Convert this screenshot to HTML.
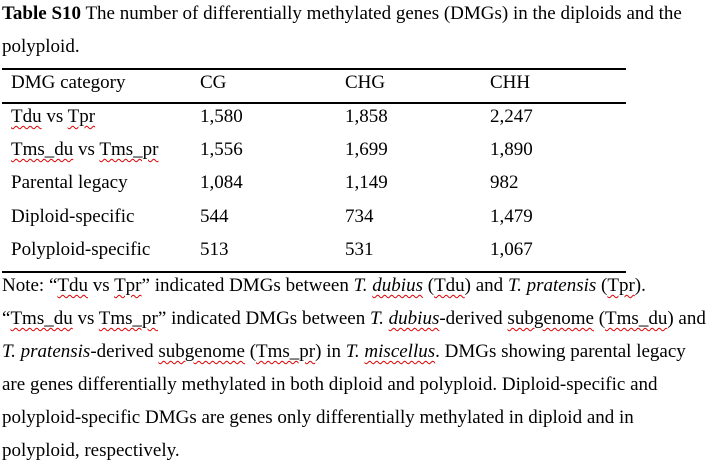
<!DOCTYPE html>
<html><head><meta charset="utf-8"><style>
body{margin:0;width:724px;height:471px;background:#fff;position:relative;overflow:hidden;font-family:"Liberation Serif",serif;font-size:19px;color:#000}
.t{position:absolute;white-space:nowrap;line-height:22px}
.w{text-decoration:underline wavy #d00;text-decoration-thickness:1px;text-underline-offset:3px}
.r{position:absolute;left:2px;width:624px;height:2px;background:#000}
</style></head><body>
<div class="t" style="left:2px;top:3px"><b>Table S10</b> The number of differentially methylated genes (DMGs) in the diploids and the</div>
<div class="t" style="left:2px;top:36px">polyploid.</div>
<div class="r" style="top:68px"></div>
<div class="r" style="top:102px"></div>
<div class="r" style="top:271px"></div>
<div id="tbl"></div>
<div class="t" style="left:2px;top:275px">Note: “<span class="w">Tdu</span> vs <span class="w">Tpr</span>” indicated DMGs between <i>T. <span class="w">dubius</span></i> (<span class="w">Tdu</span>) and <i>T. pratensis</i> (<span class="w">Tpr</span>).</div>
<div class="t" style="left:2px;top:308px">“<span class="w">Tms_du</span> vs <span class="w">Tms_pr</span>” indicated DMGs between <i>T. <span class="w">dubius</span></i>-derived <span class="w">subgenome</span> (<span class="w">Tms_du</span>) and</div>
<div class="t" style="left:2px;top:341px"><i>T. pratensis</i>-derived <span class="w">subgenome</span> (<span class="w">Tms_pr</span>) in <i>T. <span class="w">miscellus</span></i>. DMGs showing parental legacy</div>
<div class="t" style="left:2px;top:374px">are genes differentially methylated in both diploid and polyploid. Diploid-specific and</div>
<div class="t" style="left:2px;top:407px">polyploid-specific DMGs are genes only differentially methylated in diploid and in</div>
<div class="t" style="left:2px;top:440px">polyploid, respectively.</div>
<script>
const headers=["DMG category","CG","CHG","CHH"];
const categories=['<span class="w">Tdu</span> vs <span class="w">Tpr</span>','<span class="w">Tms_du</span> vs <span class="w">Tms_pr</span>',"Parental legacy","Diploid-specific","Polyploid-specific"];
const cg=["1,580","1,556","1,084","544","513"];
const chg=["1,858","1,699","1,149","734","531"];
const chh=["2,247","1,890","982","1,479","1,067"];
const colX=[11,200,345,490];
const root=document.getElementById('tbl');
function cell(html,x,y,name){const d=document.createElement('div');d.className='t';d.style.left=x+'px';d.style.top=y+'px';d.innerHTML=html;


root.appendChild(d);}
headers.forEach((h,i)=>cell(h,colX[i],72,'header-'+i));
categories.forEach((c,r)=>{const y=106+r*33.2;
cell(c,colX[0],y,'row-label-'+r);cell(cg[r],colX[1],y,'cg-value-'+r);cell(chg[r],colX[2],y,'chg-value-'+r);cell(chh[r],colX[3],y,'chh-value-'+r);});
</script>
</body></html>
